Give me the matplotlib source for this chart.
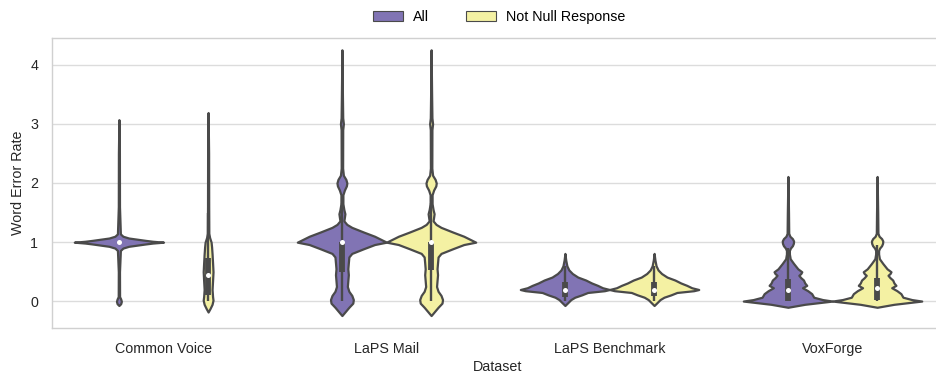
import matplotlib
matplotlib.use("Agg")
import matplotlib.pyplot as plt
from matplotlib.patches import Patch
import numpy as np

plt.rcParams["font.family"] = ["Liberation Sans", "DejaVu Sans"]

datasets = ["Common Voice", "LaPS Mail", "LaPS Benchmark", "VoxForge"]
groups = ["All", "Not Null Response"]
group_colors = ["#8174b4", "#f4f1a3"]
line_color = "#4a4a4a"

# Density profiles: WER values and half-width (percent of the slot half-width)
cv_all_wer = [-0.07, -0.04, 0.0, 0.04, 0.08, 0.5, 0.86, 0.9, 0.93, 0.97, 0.985, 1.0,
              1.015, 1.03, 1.07, 1.1, 1.14, 1.6, 2.5, 3.07]
cv_all_dens = [0, 4, 5.5, 4, 1.5, 1.3, 3.3, 9, 22, 60, 76, 100,
               76, 60, 22, 9, 3.3, 1.3, 1.1, 0]

cv_nn_wer = [-0.18, -0.12, -0.05, 0.02, 0.08, 0.2, 0.35, 0.5, 0.65, 0.8, 0.92, 1.0,
             1.08, 1.15, 1.6, 2.5, 3.19]
cv_nn_dens = [0, 4.4, 8.9, 11, 10, 8.9, 10, 11, 10, 8.9, 7.8, 6.7,
              3.3, 1.6, 1.3, 1.1, 0]

mail_all_wer = [-0.24, -0.18, -0.1, -0.03, 0.03, 0.1, 0.17, 0.25, 0.35, 0.45, 0.55, 0.65,
                0.75, 0.81, 0.89, 0.96, 1.0, 1.1, 1.17, 1.25, 1.3, 1.36, 1.42, 1.48,
                1.55, 1.65, 1.8, 1.88, 1.95, 2.0, 2.06, 2.13, 2.25, 2.9, 3.0, 3.1, 3.5, 4.25]
mail_all_dens = [0, 6.7, 15.6, 24.4, 25.6, 22.2, 15.6, 12.2, 13.3, 14.4, 13.3, 14.4,
                 15.6, 22.2, 48.9, 73.3, 100, 73.3, 48.9, 22.2, 11.1, 4.4, 5.6, 6.7,
                 4.4, 2.2, 2.2, 5.6, 10, 11.1, 8.9, 3.3, 1.6, 1.8, 3.3, 1.8, 1.1, 0]

mail_nn_wer = [-0.24, -0.18, -0.1, -0.03, 0.03, 0.1, 0.17, 0.25, 0.35, 0.45, 0.55, 0.65,
               0.75, 0.81, 0.89, 0.96, 1.0, 1.1, 1.17, 1.25, 1.3, 1.36, 1.42, 1.48,
               1.55, 1.65, 1.8, 1.88, 1.95, 2.0, 2.06, 2.13, 2.25, 2.9, 3.0, 3.1, 3.5, 4.25]
mail_nn_dens = [0, 6.7, 15.6, 24.4, 25.6, 22.2, 15.6, 12.2, 13.3, 14.4, 13.3, 14.4,
                15.6, 22.2, 48.9, 73.3, 100, 73.3, 48.9, 22.2, 11.1, 4.4, 5.6, 6.7,
                4.4, 2.2, 2.2, 5.6, 10.5, 11.5, 9, 3.3, 1.6, 1.8, 3.3, 1.8, 1.1, 0]

bench_all_wer = [-0.07, -0.02, 0.03, 0.07, 0.11, 0.15, 0.18, 0.2, 0.23, 0.27, 0.31, 0.36,
                 0.41, 0.47, 0.53, 0.6, 0.7, 0.81]
bench_all_dens = [0, 6.7, 13.3, 22.2, 37.8, 51.1, 88.9, 100, 84.4, 73.3, 60, 46.7,
                  28.9, 16.7, 8.9, 4.4, 1.8, 0]

bench_nn_wer = [-0.07, -0.02, 0.03, 0.07, 0.11, 0.15, 0.18, 0.2, 0.23, 0.27, 0.31, 0.36,
                0.41, 0.47, 0.53, 0.6, 0.7, 0.81]
bench_nn_dens = [0, 6.7, 13.3, 22.2, 37.8, 51.1, 88.9, 100, 84.4, 73.3, 60, 46.7,
                 28.9, 16.7, 8.9, 4.4, 1.8, 0]

vox_all_wer = [-0.1, -0.05, 0.005, 0.03, 0.07, 0.1, 0.13, 0.18, 0.23, 0.27, 0.31, 0.36,
               0.4, 0.44, 0.47, 0.5, 0.55, 0.64, 0.72, 0.8, 0.86, 0.9, 0.94, 0.98,
               1.02, 1.06, 1.1, 1.15, 1.5, 2.11]
vox_all_dens = [0, 37.8, 100, 77.8, 57.8, 55.6, 53.3, 44.4, 32.7, 42.2, 37.8, 34.9,
                28.9, 24.4, 28.9, 31.1, 22.2, 12.7, 5.1, 3.3, 3.3, 5.6, 10, 12.2,
                12.7, 10, 4.4, 1.8, 1.3, 0]

vox_nn_wer = [-0.1, -0.05, 0.005, 0.03, 0.07, 0.1, 0.13, 0.18, 0.23, 0.27, 0.31, 0.36,
              0.4, 0.44, 0.47, 0.5, 0.55, 0.64, 0.72, 0.8, 0.86, 0.9, 0.94, 0.98,
              1.02, 1.06, 1.1, 1.15, 1.5, 2.11]
vox_nn_dens = [0, 37.8, 100, 77.8, 57.8, 55.6, 53.3, 44.4, 32.7, 42.2, 37.8, 34.9,
               28.9, 24.4, 28.9, 31.1, 22.2, 12.7, 5.1, 3.3, 3.3, 5.6, 10, 12.2,
               12.7, 10, 4.4, 1.8, 1.3, 0]

# Box statistics: lower whisker, Q1, median, Q3, upper whisker
cv_all_box = [1.0, 1.0, 1.0, 1.0, 1.0]
cv_nn_box = [0.0, 0.1, 0.45, 0.73, 1.5]
mail_all_box = [0.0, 0.5, 1.0, 1.0, 1.67]
mail_nn_box = [0.0, 0.53, 1.0, 1.0, 1.67]
bench_all_box = [0.0, 0.08, 0.2, 0.32, 0.6]
bench_nn_box = [0.0, 0.09, 0.2, 0.32, 0.6]
vox_all_box = [0.0, 0.0, 0.2, 0.38, 0.9]
vox_nn_box = [0.0, 0.02, 0.22, 0.4, 0.95]

violins = {
    (0, 0): (cv_all_wer, cv_all_dens, cv_all_box),
    (0, 1): (cv_nn_wer, cv_nn_dens, cv_nn_box),
    (1, 0): (mail_all_wer, mail_all_dens, mail_all_box),
    (1, 1): (mail_nn_wer, mail_nn_dens, mail_nn_box),
    (2, 0): (bench_all_wer, bench_all_dens, bench_all_box),
    (2, 1): (bench_nn_wer, bench_nn_dens, bench_nn_box),
    (3, 0): (vox_all_wer, vox_all_dens, vox_all_box),
    (3, 1): (vox_nn_wer, vox_nn_dens, vox_nn_box),
}

fig = plt.figure(figsize=(9.37, 3.76), dpi=100)
ax = fig.add_axes([0.0555, 0.1277, 0.952, 0.7713])

slot = 0.4          # width of each hue slot
offsets = [-0.2, 0.2]

for (i, g), (wer, dens, box) in violins.items():
    pos = i + offsets[g]
    y = np.asarray(wer, dtype=float)
    hw = np.asarray(dens, dtype=float) / 100.0 * (slot / 2)
    ax.fill_betweenx(y, pos - hw, pos + hw, facecolor=group_colors[g],
                     edgecolor=line_color, linewidth=1.6, zorder=2)
    wlo, q1, med, q3, whi = box
    ax.plot([pos, pos], [wlo, whi], color=line_color, lw=1.7, zorder=3,
            solid_capstyle="butt")
    if q3 > q1:
        ax.plot([pos, pos], [q1, q3], color=line_color, lw=4.2, zorder=3,
                solid_capstyle="butt")
    ax.plot(pos, med, "o", color="white", markersize=3.6, zorder=4,
            markeredgewidth=0)

ax.set_xlim(-0.5, 3.5)
ax.set_ylim(-0.45, 4.45)
ax.set_xticks(range(len(datasets)))
ax.set_xticklabels(datasets)
ax.set_yticks([0, 1, 2, 3, 4])
ax.tick_params(axis="both", length=0, labelsize=10.3, labelcolor="#262626", pad=10)
ax.grid(axis="y", color="#dcdcdc", lw=1.0)
ax.set_axisbelow(True)
for s in ax.spines.values():
    s.set_color("#d0d0d0")
    s.set_linewidth(1.0)

ax.set_xlabel("Dataset", fontsize=10.3, color="#262626", labelpad=3)
ax.set_ylabel("Word Error Rate", fontsize=10.3, color="#262626", labelpad=4)

handles = [Patch(facecolor=c, edgecolor=line_color, linewidth=0.8, label=l)
           for c, l in zip(group_colors, groups)]
fig.legend(handles=handles, loc="center", bbox_to_anchor=(0.533, 0.955), ncol=2,
           frameon=False, fontsize=10.3, handlelength=2.1, handleheight=0.75,
           handletextpad=0.7, columnspacing=2.6)

fig.savefig("out.png", dpi=100)
